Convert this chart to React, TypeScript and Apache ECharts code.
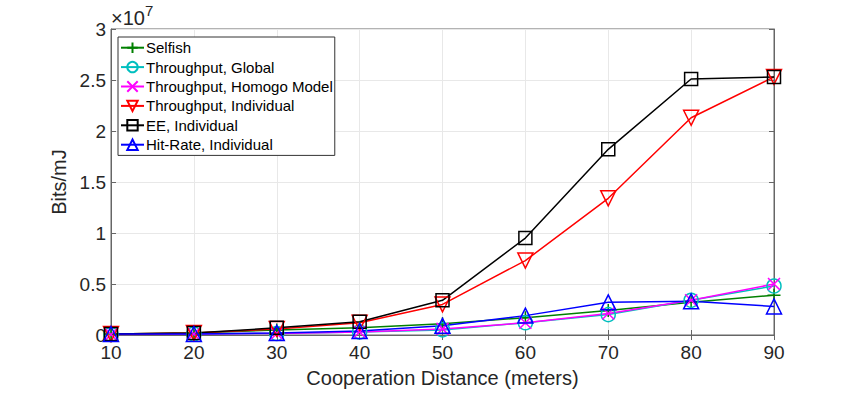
import React, { useEffect, useRef } from "react";
import * as echarts from "echarts";

const distances = [10, 20, 30, 40, 50, 60, 70, 80, 90];
const selfish = [1.0e5, 2.0e5, 5.0e5, 7.0e5, 1.1e6, 1.7e6, 2.4e6, 3.2e6, 3.9e6];
const throughputGlobal = [5.0e4, 1.0e5, 1.5e5, 3.0e5, 5.0e5, 1.2e6, 2.0e6, 3.4e6, 4.8e6];
const throughputHomogo = [5.0e4, 1.0e5, 1.5e5, 3.0e5, 6.0e5, 1.2e6, 2.1e6, 3.4e6, 5.0e6];
const throughputIndividual = [1.0e5, 2.0e5, 6.0e5, 1.2e6, 3.0e6, 7.3e6, 1.34e7, 2.13e7, 2.53e7];
const eeIndividual = [1.0e5, 2.0e5, 7.0e5, 1.3e6, 3.4e6, 9.5e6, 1.82e7, 2.51e7, 2.53e7];
const hitRateIndividual = [1.0e5, 1.0e5, 2.0e5, 4.0e5, 9.0e5, 1.9e6, 3.2e6, 3.3e6, 2.8e6];
const seriesNames = [
  "Selfish",
  "Throughput, Global",
  "Throughput, Homogo Model",
  "Throughput, Individual",
  "EE, Individual",
  "Hit-Rate, Individual",
];

const FONT = "'Liberation Sans', Arial, Helvetica, sans-serif";

export default function App() {
  const ref = useRef<HTMLDivElement>(null);
  useEffect(() => {
    document.body.style.margin = "0";
    if (!ref.current) return;
    const chart = echarts.init(ref.current, null, { renderer: "svg" });
    const values = [selfish, throughputGlobal, throughputHomogo, throughputIndividual, eeIndividual, hitRateIndividual];
    const colors = ["#008000", "#00bfbf", "#ff00ff", "#ff0000", "#000000", "#0000ff"];
    const symbols = [
      "path://M5,0L5,10M0,5L10,5",
      "circle",
      "path://M0,0L10,10M10,0L0,10",
      "triangle",
      "rect",
      "triangle",
    ];
    const sizes = [13, 14, 12, 15, 13, 15];
    const rotates = [0, 0, 0, 180, 0, 0];
    const series = values.map((v, i) => ({
      name: seriesNames[i],
      type: "line",
      data: distances.map((d, j) => [d, v[j]]),
      symbol: symbols[i],
      symbolSize: sizes[i],
      symbolRotate: rotates[i],
      showAllSymbol: true,
      lineStyle: { color: colors[i], width: 1.5 },
      itemStyle: { color: "none", borderColor: colors[i], borderWidth: 1.5 },
      emphasis: { disabled: true },
    }));
    const axisLineStyle = { color: "#666", width: 1 };
    const textColor = "#262626";
    chart.setOption({
      animation: false,
      textStyle: { fontFamily: FONT },
      grid: {
        left: 111,
        right: 81,
        top: 29,
        bottom: 55,
        show: true,
        borderColor: "#666",
        borderWidth: 1,
        backgroundColor: "#fff",
      },
      xAxis: [
        {
          type: "value",
          min: 10,
          max: 90,
          interval: 10,
          name: "Cooperation Distance (meters)",
          nameLocation: "middle",
          nameGap: 33,
          nameTextStyle: { fontSize: 20, color: textColor, fontFamily: FONT },
          axisLine: { lineStyle: axisLineStyle },
          axisTick: { inside: true, length: 5, lineStyle: axisLineStyle },
          axisLabel: { fontSize: 19, color: textColor, margin: 8, fontFamily: FONT },
          splitLine: { show: true, lineStyle: { color: "#e8e8e8", width: 1 } },
        },
        {
          type: "value",
          position: "top",
          min: 10,
          max: 90,
          interval: 10,
          axisLine: { show: true, lineStyle: axisLineStyle },
          axisTick: { inside: true, length: 5, lineStyle: axisLineStyle },
          axisLabel: { show: false },
          splitLine: { show: false },
        },
      ],
      yAxis: [
        {
          type: "value",
          min: 0,
          max: 3e7,
          interval: 5e6,
          name: "Bits/mJ",
          nameLocation: "middle",
          nameGap: 42,
          nameTextStyle: { fontSize: 20, color: textColor, fontFamily: FONT },
          axisLine: { show: true, lineStyle: axisLineStyle },
          axisTick: { show: true, inside: true, length: 5, lineStyle: axisLineStyle },
          axisLabel: {
            fontSize: 19,
            color: textColor,
            margin: 5,
            fontFamily: FONT,
            formatter: (v: number) => String(Math.round((v / 1e7) * 10) / 10),
          },
          splitLine: { show: true, lineStyle: { color: "#e8e8e8", width: 1 } },
        },
        {
          type: "value",
          position: "right",
          min: 0,
          max: 3e7,
          interval: 5e6,
          axisLine: { show: true, lineStyle: axisLineStyle },
          axisTick: { show: true, inside: true, length: 5, lineStyle: axisLineStyle },
          axisLabel: { show: false },
          splitLine: { show: false },
        },
      ],
      legend: {
        orient: "vertical",
        left: 118,
        top: 37,
        itemWidth: 23,
        itemHeight: 13,
        itemGap: 4,
        padding: [3, 2, 3, 2],
        backgroundColor: "#fff",
        borderColor: "#333",
        borderWidth: 1,
        borderRadius: 0,
        textStyle: { fontSize: 15, color: "#000", fontFamily: FONT, padding: [0, 0, 0, -3] },
        data: seriesNames,
      },
      graphic: [
        {
          type: "text",
          left: 111,
          top: 3,
          style: {
            text: "{a|×10}{b|7}",
            rich: {
              a: { fontSize: 20, fontFamily: FONT, fill: textColor, verticalAlign: "bottom" },
              b: { fontSize: 15, fontFamily: FONT, fill: textColor, verticalAlign: "top", padding: [0, 0, 10, 0] },
            },
          },
        },
      ],
      series,
    });
    return () => chart.dispose();
  }, []);
  return <div ref={ref} style={{ width: 855, height: 393 }} />;
}
